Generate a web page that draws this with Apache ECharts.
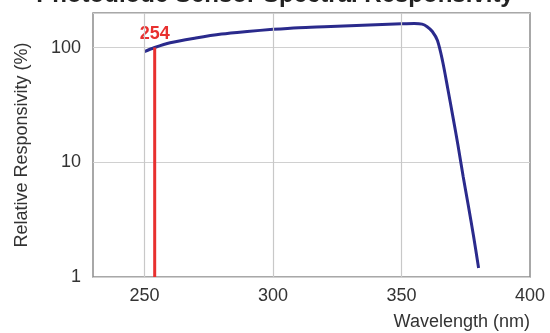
<!DOCTYPE html>
<html>
<head>
<meta charset="utf-8">
<script src="https://cdn.jsdelivr.net/npm/echarts@6/dist/echarts.min.js"></script>
<style>
  html, body { margin: 0; padding: 0; background: #fff; }
  #chart { width: 550px; height: 333px; }
</style>
</head>
<body>
<div id="chart"></div>
<script>
// spectral responsivity curve
var wavelengths = [250, 254, 260, 270, 280, 290, 300, 310, 320, 330, 340, 350, 355, 358, 360, 362, 364, 366, 368, 370, 372, 374, 376, 378, 380];
var responsivity = [92, 100, 110, 121, 131, 138, 144, 149, 152, 155, 158, 161, 162, 160, 152, 138, 115, 76, 44, 25, 14, 7.5, 4.2, 2.3, 1.2];
var markerWave = 254;
var markerRange = [1, 100];
var xTicks = [250, 300, 350, 400];
var gridX = [250, 300, 350];

var curve = wavelengths.map(function (w, i) { return [w, responsivity[i]]; });

var myChart = echarts.init(document.getElementById('chart'));
var font = 'Liberation Sans, Arial, sans-serif';

var option = {
    animation: false,
    title: {
        text: 'Photodiode Sensor Spectral Responsivity',
        left: 'center',
        top: -22,
        textStyle: { fontFamily: font, fontSize: 24, fontWeight: 'bold', color: '#222' }
    },
    grid: {
        left: 93, right: 20, top: 13, bottom: 56,
        show: true, borderColor: '#8c8c8c', borderWidth: 1.5
    },
    xAxis: {
        type: 'value',
        min: 230,
        max: 400,
        name: 'Wavelength (nm)',
        nameLocation: 'end',
        nameGap: 0,
        nameTextStyle: {
            fontFamily: font, fontSize: 18, color: '#333',
            align: 'right', verticalAlign: 'top', padding: [36, 0, 0, 0]
        },
        axisLine: { show: false },
        axisTick: { show: false },
        splitLine: { show: false },
        axisLabel: {
            customValues: xTicks,
            fontFamily: font, fontSize: 18, color: '#333', margin: 10
        }
    },
    yAxis: {
        type: 'log',
        logBase: 10,
        min: 1,
        max: 200,
        name: 'Relative Responsivity (%)',
        nameLocation: 'middle',
        nameGap: 62,
        nameTextStyle: { fontFamily: font, fontSize: 18, color: '#333' },
        axisLine: { show: false },
        axisTick: { show: false },
        splitLine: { lineStyle: { color: '#d0d0d0', width: 1.2 } },
        axisLabel: {
            showMaxLabel: false,
            fontFamily: font, fontSize: 18, color: '#333', margin: 12
        }
    },
    series: [
        {
            name: 'grid',
            type: 'line',
            data: [],
            silent: true,
            markLine: {
                silent: true,
                symbol: 'none',
                label: { show: false },
                lineStyle: { color: '#c8c8c8', width: 1.2, type: 'solid' },
                data: gridX.map(function (v) { return { xAxis: v }; })
            }
        },
        {
            name: 'responsivity',
            type: 'line',
            data: curve,
            smooth: 0.3,
            showSymbol: false,
            lineStyle: { color: '#2a2a8c', width: 3 },
            z: 3
        },
        {
            name: 'marker',
            type: 'line',
            showSymbol: true,
            symbolSize: 0,
            lineStyle: { color: '#e8302f', width: 3 },
            data: [
                [markerWave, markerRange[0]],
                {
                    value: [markerWave, markerRange[1]],
                    label: {
                        show: true,
                        formatter: String(markerWave),
                        position: 'top',
                        distance: 5,
                        color: '#e8302f',
                        fontFamily: font,
                        fontSize: 18,
                        fontWeight: 'bold'
                    }
                }
            ],
            z: 4
        }
    ]
};

myChart.setOption(option);
</script>
</body>
</html>
